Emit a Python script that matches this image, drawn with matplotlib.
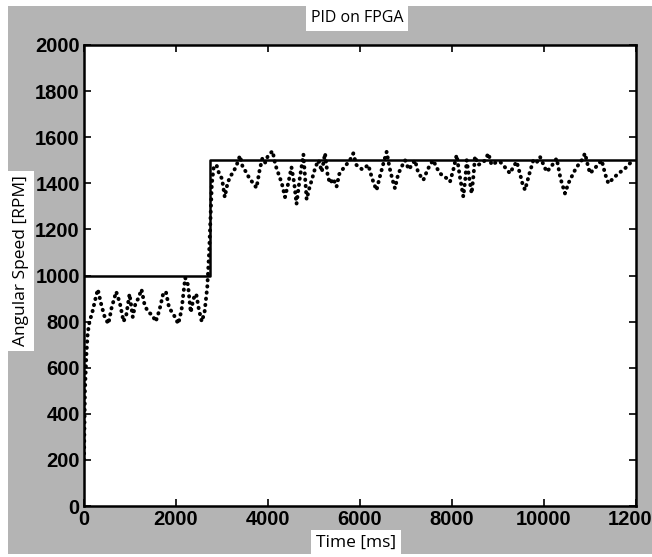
import numpy as np
import matplotlib
matplotlib.use("Agg")
import matplotlib.pyplot as plt
from matplotlib.patches import Rectangle

# setpoint (step)
set_t = [0, 2740, 2740, 12000]
set_rpm = [1000, 1000, 1500, 1500]

speed_t = [0, 20, 50, 80, 120, 180, 250, 300, 380, 450, 530, 600, 700, 780, 860,
           920, 990, 1060, 1120, 1180, 1250, 1320, 1400, 1480, 1560, 1640, 1720,
           1780, 1850, 1950, 2050, 2120, 2200, 2260, 2320, 2380, 2440, 2500, 2560,
           2620, 2680, 2720, 2750, 2780, 2820, 2880, 2940, 3000, 3060, 3120, 3180,
           3250, 3320, 3390, 3450, 3520, 3600, 3680, 3750, 3820, 3880, 3940, 4000,
           4100, 4160, 4230, 4300, 4370, 4440, 4510, 4570, 4620, 4690, 4770, 4840,
           4900, 4960, 5030, 5100, 5170, 5240, 5300, 5350, 5420, 5490, 5550, 5620,
           5700, 5780, 5855, 5920, 5980, 6050, 6120, 6180, 6250, 6300, 6360, 6420,
           6500, 6580, 6640, 6700, 6760, 6830, 6900, 6980, 7060, 7130, 7196, 7260,
           7320, 7377, 7450, 7520, 7594, 7660, 7740, 7820, 7900, 7957, 8030, 8101,
           8170, 8246, 8290, 8319, 8370, 8427, 8470, 8500, 8570, 8645, 8720, 8790,
           8860, 8950, 9043, 9150, 9261, 9330, 9406, 9480, 9530, 9587, 9680, 9768,
           9840, 9913, 9990, 10058, 10150, 10275, 10360, 10456, 10530, 10601, 10680,
           10746, 10820, 10891, 10950, 11000, 11080, 11170, 11254, 11330, 11398,
           11500, 11616, 11740, 11870, 11950]
speed_rpm = [200, 500, 650, 750, 800, 840, 900, 940, 870, 820, 790, 860, 930, 880, 800,
             830, 920, 820, 880, 900, 940, 870, 840, 830, 800, 850, 920,
             930, 860, 830, 790, 850, 990, 960, 840, 900, 920, 850, 800,
             840, 950, 1100, 1250, 1400, 1470, 1480, 1440, 1420, 1340, 1400, 1430,
             1450, 1480, 1520, 1470, 1450, 1420, 1400, 1380, 1460, 1510, 1490, 1520,
             1540, 1480, 1440, 1400, 1340, 1400, 1470, 1400, 1310, 1420, 1525, 1330,
             1380, 1420, 1470, 1500, 1450, 1530, 1430, 1400, 1420, 1385, 1440, 1460,
             1480, 1500, 1530, 1480, 1470, 1460, 1470, 1480, 1430, 1400, 1370, 1420,
             1480, 1537, 1470, 1420, 1378, 1440, 1470, 1500, 1460, 1480, 1500, 1450,
             1430, 1414, 1450, 1480, 1500, 1470, 1443, 1430, 1420, 1407, 1460, 1523,
             1430, 1342, 1420, 1500, 1430, 1356, 1440, 1517, 1480, 1487, 1500, 1530,
             1480, 1490, 1494, 1470, 1443, 1470, 1494, 1440, 1400, 1371, 1440, 1500,
             1490, 1515, 1480, 1450, 1470, 1508, 1420, 1356, 1400, 1428, 1460,
             1480, 1500, 1530, 1480, 1443, 1460, 1480, 1500, 1440, 1400,
             1420, 1443, 1460, 1487, 1494]

xticks = [0, 2000, 4000, 6000, 8000, 10000, 12000]
yticks = [0, 200, 400, 600, 800, 1000, 1200, 1400, 1600, 1800, 2000]

tick_font = ['Liberation Sans Narrow', 'Liberation Sans', 'DejaVu Sans']
label_font = ['Open Sans', 'DejaVu Sans']

fig = plt.figure(figsize=(6.52, 5.57), dpi=100, facecolor='white')
# grey panel behind everything
fig.patches.append(Rectangle((8 / 652, 3 / 557), 1, 1 - 9 / 557, transform=fig.transFigure,
                             facecolor='#b4b4b4', edgecolor='none', zorder=0))

ax = fig.add_axes([84 / 652, 1 - 506 / 557, 552 / 652, 461 / 557])
ax.set_zorder(2)
ax.set_facecolor('white')

ax.plot(set_t, set_rpm, color='black', lw=1.8)
ax.plot(speed_t, speed_rpm, color='black', lw=2.8, linestyle=(0, (0.1, 1.5)),
        dash_capstyle='round')

ax.set_xlim(0, 12000)
ax.set_ylim(0, 2000)
ax.set_xticks(xticks)
ax.set_yticks(yticks)
ax.tick_params(direction='in', length=5, width=1.2, top=True, right=True,
               labelsize=14.5, pad=3)
for lab in ax.get_xticklabels() + ax.get_yticklabels():
    lab.set_fontfamily(tick_font)
    lab.set_fontweight('bold')
for sp in ax.spines.values():
    sp.set_linewidth(1.8)

box = dict(facecolor='white', edgecolor='none', pad=3.5)
fig.text(357 / 652, 1 - 18 / 557, 'PID on FPGA', ha='center', va='center',
         fontsize=11.5, family=label_font, bbox=box, zorder=3)
fig.text(356 / 652, 1 - 543 / 557, 'Time [ms]', ha='center', va='center',
         fontsize=12.5, family=label_font, bbox=box, zorder=3)
fig.text(21 / 652, 1 - 261 / 557, 'Angular Speed [RPM]', ha='center', va='center',
         rotation=90, fontsize=12.5, family=label_font, bbox=box, zorder=3)

fig.savefig('out.png', dpi=100, facecolor=fig.get_facecolor())
